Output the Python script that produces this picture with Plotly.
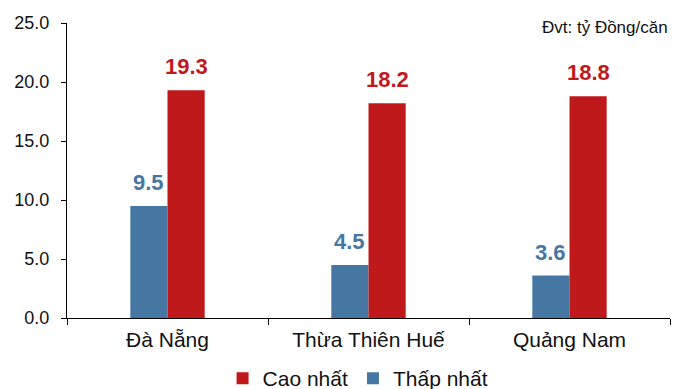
import plotly.graph_objects as go

provinces = ["Đà Nẵng", "Thừa Thiên Huế", "Quảng Nam"]
lowest = [9.5, 4.5, 3.6]
highest = [19.3, 18.2, 18.8]
y_ticks = [0, 5, 10, 15, 20, 25]

BLUE = "#4677A3"
RED = "#C0191C"
FONT = "Liberation Sans"
BAR_HALF_PX = 18.6  # half of one bar's pixel width, used to centre value labels

fig = go.Figure()
fig.add_trace(go.Bar(x=provinces, y=lowest, name="Thấp nhất",
                     marker=dict(color=BLUE, line_width=0), legendrank=2))
fig.add_trace(go.Bar(x=provinces, y=highest, name="Cao nhất",
                     marker=dict(color=RED, line_width=0), legendrank=1))

# value labels above each bar
for series, color, shift in ((lowest, BLUE, -BAR_HALF_PX), (highest, RED, BAR_HALF_PX)):
    for cat, val in zip(provinces, series):
        fig.add_annotation(x=cat, y=val, text=f"{val:.1f}", showarrow=False,
                           xanchor="center", yanchor="bottom", xshift=shift, yshift=9,
                           font=dict(family=FONT, size=22, color=color, weight="bold"))

fig.update_layout(
    width=673, height=389,
    margin=dict(l=67, r=3, t=23, b=71, autoexpand=False),
    paper_bgcolor="white", plot_bgcolor="white",
    barmode="group", bargap=0.63, bargroupgap=0,
    font=dict(family=FONT, color="#111111"),
    showlegend=True,
    legend=dict(orientation="h", x=0.258, xanchor="left", y=-0.205, yanchor="middle",
                font=dict(size=21), traceorder="normal"),
    xaxis=dict(showline=True, linecolor="black", linewidth=1,
               ticks="outside", tickson="boundaries", ticklen=6, tickcolor="black",
               tickfont=dict(size=21), ticklabelstandoff=3, showgrid=False),
    yaxis=dict(range=[0, 25], tickvals=y_ticks, ticktext=[f"{v:.1f}" for v in y_ticks],
               showline=True, linecolor="black", linewidth=1,
               ticks="outside", ticklen=5, tickcolor="black",
               tickfont=dict(size=18), ticklabelstandoff=8,
               showgrid=False, zeroline=False),
)
fig.add_annotation(text="Đvt: tỷ Đồng/căn", xref="paper", yref="paper",
                   x=1.0, y=0.986, xanchor="right", yanchor="middle",
                   showarrow=False, font=dict(family=FONT, size=17, color="#111111"))

fig.write_html("out.html")
